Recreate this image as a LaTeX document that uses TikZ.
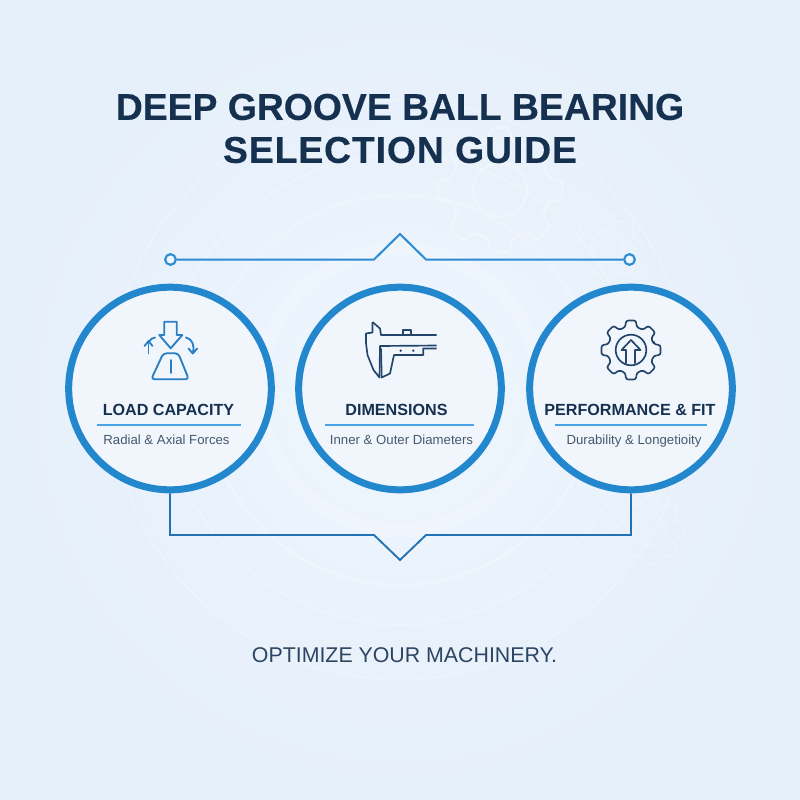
\documentclass[tikz,border=0pt]{standalone}
\usepackage{fontspec}
\setmainfont{Liberation Sans}
\definecolor{navy}{HTML}{16304F}
\definecolor{subgray}{HTML}{46586E}
\definecolor{ringblue}{HTML}{2387CE}
\definecolor{lineblue}{HTML}{2A8AD2}
\definecolor{hairblue}{HTML}{4AA3E4}
\definecolor{darkline}{HTML}{2272B4}
\definecolor{iconblue}{HTML}{2A7FC4}
\definecolor{icondark}{HTML}{24456A}
\definecolor{bgedge}{HTML}{E6F0FA}
\definecolor{bgmid}{HTML}{EEF5FD}
\definecolor{discfill}{HTML}{F1F6FD}
\newfontfamily\titlefont[FakeBold=0.3]{Liberation Sans Bold}
\newfontfamily\titlewide[FakeBold=0.3,LetterSpace=2.4]{Liberation Sans Bold}
\tikzset{
  ringnode/.style={circle,draw=ringblue,line width=5.25pt,fill=discfill,minimum size=152pt,inner sep=0pt},
  bgring/.style={draw=white,opacity=0.22},
  bggear/.style={draw=white,opacity=0.3,line join=round},
  headtext/.style={text=navy,anchor=base,font=\bfseries\fontsize{12.1pt}{14pt}\selectfont,inner sep=0pt},
  subtext/.style={text=subgray,anchor=base,font=\fontsize{9.9pt}{11pt}\selectfont,inner sep=0pt},
  titletext/.style={text=navy,font=\titlefont\fontsize{28pt}{32pt}\selectfont,inner sep=0pt},
  titletextB/.style={text=navy,font=\titlewide\fontsize{28pt}{32pt}\selectfont,inner sep=0pt},
  hairline/.style={draw=hairblue,line width=1.3pt},
  toplink/.style={draw=lineblue,line width=1.5pt,line join=miter},
  botlink/.style={draw=darkline,line width=1.4pt,line join=miter},
  enddot/.style={circle,draw=lineblue,line width=1.6pt,fill=discfill,minimum size=8pt,inner sep=0pt},
  iconB/.style={draw=iconblue,line width=1.4pt,line cap=round,line join=round},
  iconD/.style={draw=icondark,line width=1.25pt,line join=round},
}
\begin{document}
\begin{tikzpicture}[x=0.75pt,y=-0.75pt]
\useasboundingbox (0,0) rectangle (800,800);
% background
\shade[inner color=bgmid,outer color=bgedge] (0,0) rectangle (800,800);
\foreach \r/\w in {90/28,140/14,195/3,235/2,290/1.5}{
  \draw[bgring,line width=\w*0.75pt] (400,390) circle (\r);
}
\foreach \cx/\cy/\R/\rr/\hole/\w in {500/190/63/50/27/2.2,607/247/35/28/16/1,650/530/35/28/16/1}{
  \draw[bggear,line width=\w*0.75pt,rounded corners=3pt] ({\cx+\rr*cos(-13)},{\cy+\rr*sin(-13)})
    \foreach \a in {0,45,...,315}{
      -- ({\cx+\rr*cos(\a-13)},{\cy+\rr*sin(\a-13)})
      -- ({\cx+\R*cos(\a-9)},{\cy+\R*sin(\a-9)})
      -- ({\cx+\R*cos(\a+9)},{\cy+\R*sin(\a+9)})
      -- ({\cx+\rr*cos(\a+13)},{\cy+\rr*sin(\a+13)})
    } -- cycle;
  \draw[bggear,line width=\w*0.75pt] (\cx,\cy) circle (\hole);
}
% title
\node[titletext] (titleA) at (400,107) {DEEP GROOVE BALL BEARING};
\node[titletextB] (titleB) at (400,150) {SELECTION GUIDE};
% circles
\node[ringnode] (load) at (170,388.5) {};
\node[ringnode] (dims) at (400,388.5) {};
\node[ringnode] (perf) at (631,388.5) {};
% top connector
\node[enddot] (dotL) at (170.5,259.5) {};
\node[enddot] (dotR) at (629.5,259.5) {};
\coordinate (tA) at (374,259.5);
\coordinate (tP) at (400,234);
\coordinate (tB) at (426,259.5);
\draw[toplink] (dotL) -- (tA) -- (tP) -- (tB) -- (dotR);
% bottom connector
\coordinate (bA) at (374,535);
\coordinate (bP) at (400,560);
\coordinate (bB) at (426,535);
\draw[botlink] (load.south) -- (load.south |- bA) -- (bA) -- (bP) -- (bB) -- (perf.south |- bA) -- (perf.south);
% load text
\node[headtext] (loadT) at (168.5,415) {LOAD CAPACITY};
\draw[hairline] (96.7,425.3) -- (241,425.3);
\node[subtext] (loadS) at (166.5,444) {Radial \& Axial Forces};
% dims text
\node[headtext] (dimsT) at (396.5,415) {DIMENSIONS};
\draw[hairline] (325,425.3) -- (474,425.3);
\node[subtext] (dimsS) at (401.5,444) {Inner \& Outer Diameters};
% perf text
\node[headtext] (perfT) at (630,415) {PERFORMANCE \& FIT};
\draw[hairline] (555,425.3) -- (706.7,425.3);
\node[subtext] (perfS) at (634,444) {Durability \& Longetioity};
% load icon
\begin{scope}[iconB]
\draw (164.3,321.7) -- (176.7,321.7) -- (176.7,335) -- (182.3,335) -- (170.7,348.3) -- (159.3,335) -- (164.3,335) -- cycle;
\draw[rounded corners=2.5pt] (163.3,353.3) -- (178.3,353.3) -- (188.8,379.3) -- (151.2,379.3) -- cycle;
\draw (170.7,360) -- (170.7,373);
\draw (148.5,353.5) -- (148.5,341);
\draw (144.5,346) -- (148.5,341) -- (152.5,346);
\draw (149,341.5) .. controls (150,339) and (153,338) .. (155,337.5);
\draw (186,337.5) .. controls (192,339) and (195,345) .. (192.8,353);
\draw (188.5,348.5) -- (192.8,353.5) -- (197.2,348.5);
\end{scope}
% caliper icon
\begin{scope}[iconD]
\draw (372.5,322) -- (380,328.5) -- (381,335) -- (436.7,335);
\draw (372.5,322) -- (372.5,332.5) -- (366,333.5) -- (366,343) -- (367.5,355) -- (373.5,370) -- (379.5,377.5) -- (380,346) -- (436.7,345.5);
\draw (381,348.5) -- (381.7,377.5) -- (390,373.5) -- (394,355) -- (423.3,355) -- (423.3,348.5) -- (436.7,348.5);
\draw (402.7,335) -- (402.7,330) -- (410.7,330) -- (410.7,335);
\fill[icondark] (400.7,350.7) circle (1.3) (413.3,350.7) circle (1.3);
\end{scope}
% gear icon
\begin{scope}[iconD]
\draw[rounded corners=2pt] ({631+23.5*cos(-13.5)},{350+23.5*sin(-13.5)})
  \foreach \a in {0,45,...,315}{
    -- ({631+23.5*cos(\a-13.5)},{350+23.5*sin(\a-13.5)})
    -- ({631+30*cos(\a-10)},{350+30*sin(\a-10)})
    -- ({631+30*cos(\a+10)},{350+30*sin(\a+10)})
    -- ({631+23.5*cos(\a+13.5)},{350+23.5*sin(\a+13.5)})
  } -- cycle;
\draw (631,350) circle (15.3);
\draw (626,363.7) -- (626,350) -- (621.5,350) -- (631,340) -- (640.5,350) -- (635,350) -- (635,363.7);
\end{scope}
% tagline
\node[text=navy!90,font=\fontsize{16pt}{18pt}\selectfont,inner sep=0pt] (tag) at (404.5,655.5) {OPTIMIZE YOUR MACHINERY.};
\end{tikzpicture}
\end{document}
